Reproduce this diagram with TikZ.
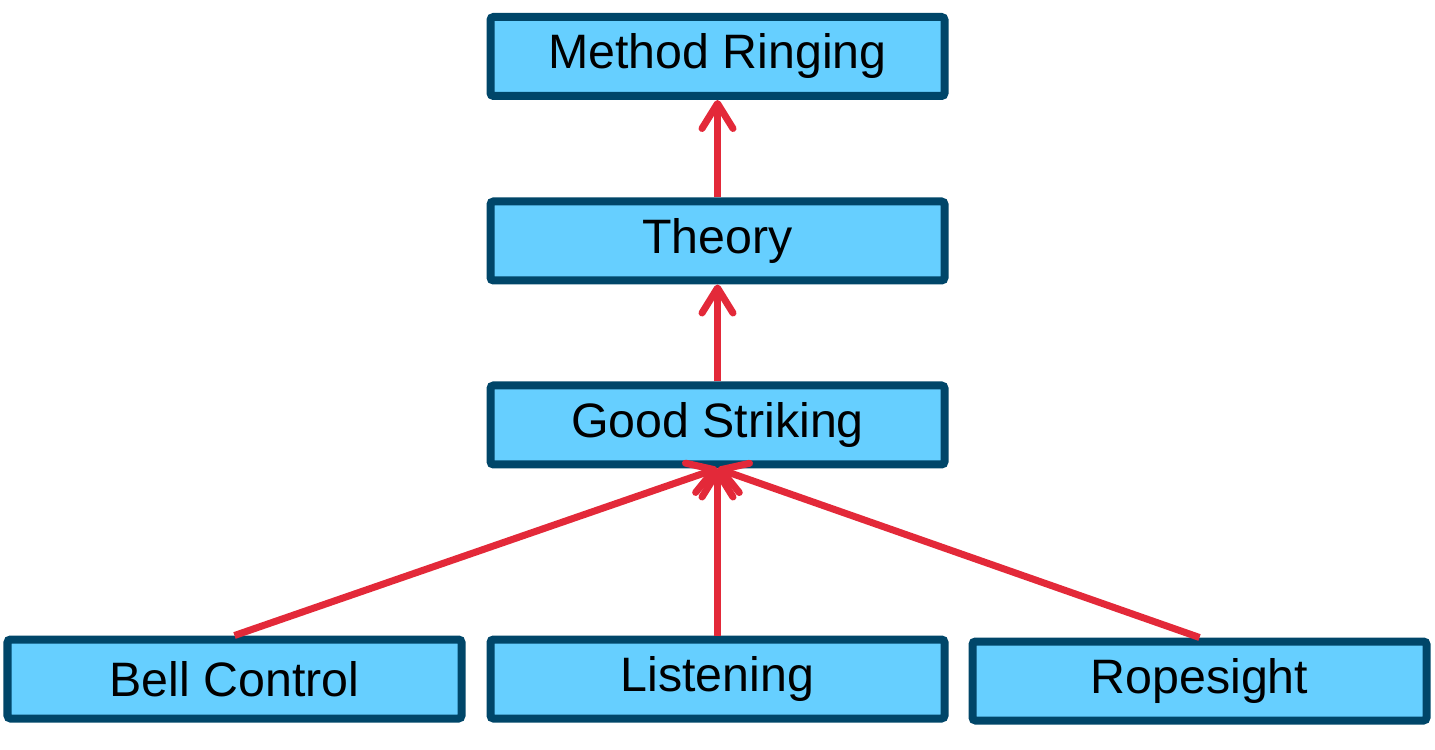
\documentclass[tikz,border=0pt]{standalone}
\usepackage{fontspec}
\setmainfont{Liberation Sans}
\usepackage{xcolor}
\usepackage{tikz}
\usetikzlibrary{arrows.meta,positioning}

\definecolor{boxfill}{RGB}{102,207,255}
\definecolor{boxline}{RGB}{0,70,105}
\definecolor{arrowred}{RGB}{227,41,57}

\begin{document}
\begin{tikzpicture}[every node/.style={font=\fontsize{27.5}{32}\selectfont},
  skill/.style={draw=boxline,fill=boxfill,line width=0.16cm,rounded corners=0.06cm,
    rectangle,minimum width=9.08cm,minimum height=1.58cm,inner sep=0pt},
  up/.style={draw=arrowred,line width=0.14cm,
    -{Straight Barb[length=0.5cm,width=0.62cm,round]}}]

\useasboundingbox (0,0) rectangle (28.7,14.98);

% Top levels
\node[skill] (method) at (14.35,13.85) {Method Ringing};
\node[skill] (theory) at (14.35,10.16) {Theory};
\node[skill] (striking) at (14.35,6.48) {Good Striking};

% Basics
\node[skill] (bell) at (4.69,1.40) {Bell Control};
\node[skill] (listen) at (14.35,1.40) {Listening};
\node[skill] (rope) at (23.99,1.36) {Ropesight};

% Connections
\draw[up] (theory.north) -- (method.south);
\draw[up] (striking.north) -- (theory.south);
\draw[up] (bell.north) -- (striking.south);
\draw[up] (listen.north) -- (striking.south);
\draw[up] (rope.north) -- (striking.south);

\end{tikzpicture}
\end{document}
